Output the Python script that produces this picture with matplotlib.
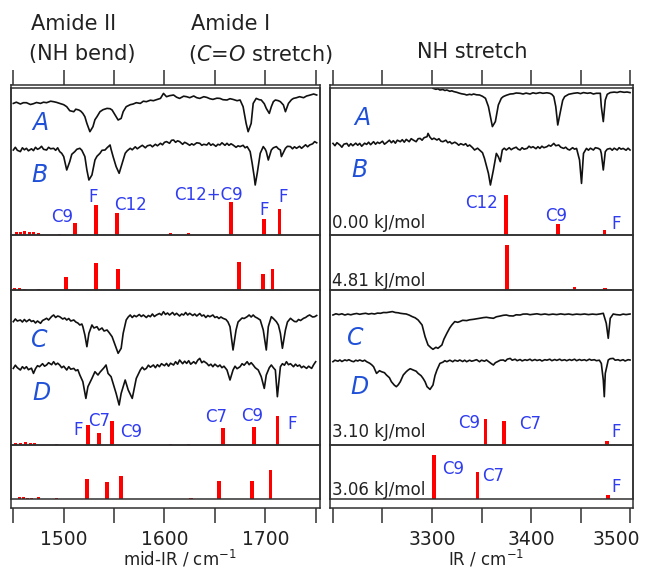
import numpy as np
import matplotlib
matplotlib.use("Agg")
import matplotlib.pyplot as plt
from matplotlib.transforms import ScaledTranslation

# ---------------------------------------------------------------------------
# Experimental traces, read off the figure: (wavenumber / cm-1, signal)
# signal is relative to each trace's own baseline (dips are negative)
# ---------------------------------------------------------------------------
mir_A = [
    (1450, -1.7), (1453, -0.5), (1457, -2.3), (1460, -1.0), (1463, -1.0), (1467, -2.8),
    (1470, -2.0), (1473, -0.8), (1477, -1.7), (1480, -0.5), (1483, -1.0), (1487, 0.5),
    (1490, 0.0), (1493, -0.7), (1496, -1.7), (1500, -3.0), (1503, -5.0), (1506, -9.0),
    (1510, -10.0), (1512, -7.5), (1515, -8.3), (1517, -9.5), (1519, -11.7), (1521, -15.0),
    (1523, -21.7), (1526, -30.0), (1529, -25.0), (1531, -18.0), (1533, -15.0), (1536, -10.0),
    (1539, -8.0), (1543, -6.7), (1546, -7.0), (1548, -8.3), (1551, -13.3), (1554, -18.3),
    (1557, -16.7), (1559, -10.0), (1562, -5.0), (1566, -3.0), (1569, -2.3), (1572, -1.0),
    (1576, -1.7), (1579, 0.5), (1582, 0.0), (1586, 1.5), (1589, 1.0), (1592, 2.0),
    (1596, 3.3), (1599, 8.3), (1602, 5.0), (1605, 6.0), (1609, 6.7), (1612, 4.5),
    (1615, 3.3), (1619, 5.5), (1622, 5.0), (1625, 4.0), (1629, 5.7), (1632, 4.0),
    (1635, 3.3), (1639, 5.0), (1642, 4.3), (1645, 3.0), (1648, 2.3), (1652, 3.5),
    (1655, 3.3), (1658, 2.0), (1662, 1.7), (1665, 3.0), (1668, 2.3), (1672, 1.0),
    (1675, 1.7), (1678, -5.0), (1681, -21.7), (1683, -30.0), (1686, -21.7), (1688, -1.7),
    (1691, 3.3), (1694, 2.0), (1696, 1.7), (1699, -2.0), (1701, -6.7), (1704, -11.7),
    (1706, -5.0), (1708, 0.0), (1710, 1.7), (1713, 1.0), (1715, 0.0), (1718, -3.3),
    (1720, -10.0), (1723, -1.7), (1726, 2.0), (1728, 3.3), (1731, 4.0), (1734, 5.0),
    (1738, 4.0), (1741, 5.7), (1744, 6.5), (1748, 7.7), (1751, 6.7),
]

mir_B = [
    (1450, -1.7), (1452, 1.0), (1454, -2.0), (1457, -3.3), (1459, 0.5), (1461, -1.5),
    (1463, 0.0), (1465, -2.5), (1468, -0.5), (1470, -2.3), (1472, 1.0), (1474, -1.0),
    (1476, 0.0), (1478, 2.0), (1480, -1.0), (1483, -1.7), (1485, 1.0), (1487, -0.5),
    (1490, 0.0), (1492, -2.0), (1494, 0.5), (1496, -3.3), (1498, -5.0), (1500, -8.3),
    (1503, -21.7), (1506, -13.3), (1508, -6.0), (1511, -3.3), (1513, -1.0), (1516, 0.0),
    (1518, -2.0), (1521, -8.3), (1523, -21.7), (1525, -31.7), (1528, -26.7), (1531, -11.7),
    (1533, -8.0), (1536, -5.0), (1538, -2.0), (1541, -1.7), (1543, 0.5), (1546, 3.3),
    (1547, -1.0), (1549, -8.3), (1552, -18.3), (1555, -25.0), (1558, -15.0), (1561, -5.0),
    (1563, -2.5), (1566, 0.0), (1568, -1.5), (1571, 1.5), (1573, -0.5), (1576, 1.7),
    (1578, 3.0), (1581, 0.5), (1583, 2.5), (1586, 3.3), (1588, 1.5), (1591, 4.0),
    (1593, 2.5), (1596, 5.0), (1598, 3.5), (1600, 6.0), (1602, 6.7), (1605, 5.0),
    (1607, 8.0), (1609, 8.3), (1611, 6.0), (1613, 7.5), (1615, 6.7), (1618, 4.0),
    (1620, 6.0), (1622, 5.0), (1625, 3.0), (1627, 4.5), (1629, 3.3), (1632, 5.5),
    (1635, 5.0), (1637, 3.0), (1639, 4.0), (1642, 3.3), (1644, 5.5), (1646, 3.0),
    (1648, 4.3), (1651, 2.0), (1653, 4.0), (1655, 3.3), (1657, 5.5), (1660, 3.0),
    (1662, 5.0), (1664, 3.0), (1666, 4.5), (1668, 3.3), (1671, 1.0), (1673, 2.5),
    (1675, 1.7), (1678, 3.0), (1680, 0.5), (1682, 1.7), (1685, -3.3), (1687, -15.0),
    (1689, -28.3), (1690, -36.7), (1692, -25.0), (1695, -5.0), (1698, 1.7), (1700, -1.0),
    (1701, -3.3), (1703, -11.7), (1706, -1.7), (1708, 0.5), (1711, 1.7), (1713, -0.5),
    (1715, -1.7), (1716, -8.3), (1720, 0.0), (1722, 2.0), (1725, 1.7), (1727, -0.5),
    (1729, 1.5), (1731, 0.0), (1734, 2.0), (1736, 0.0), (1738, 1.7), (1740, 3.5),
    (1742, 1.5), (1744, 3.3), (1747, 4.5), (1749, 6.7), (1751, 5.5),
]

mir_C = [
    (1450, -1.7), (1452, 1.0), (1454, -1.0), (1457, 0.0), (1459, -2.0), (1461, 0.5),
    (1463, -1.7), (1466, 0.5), (1468, -1.5), (1470, -0.7), (1472, -3.0), (1474, -1.0),
    (1477, -3.3), (1479, -0.5), (1481, 0.5), (1483, 1.7), (1485, 0.0), (1488, 3.5),
    (1490, 5.0), (1492, 2.5), (1494, 4.0), (1496, 3.3), (1499, 1.0), (1501, 2.0),
    (1503, 0.0), (1505, 1.5), (1507, -1.0), (1510, 0.0), (1512, -2.0), (1514, -3.0),
    (1516, -5.0), (1518, -4.0), (1519, -6.7), (1521, -15.0), (1523, -26.7), (1525, -13.3),
    (1528, -5.0), (1530, -8.0), (1533, -6.7), (1535, -10.0), (1538, -8.0), (1540, -11.0),
    (1543, -10.0), (1545, -12.5), (1548, -16.7), (1551, -25.0), (1554, -33.3), (1557, -28.3),
    (1559, -13.3), (1562, 0.0), (1564, 3.0), (1566, 5.0), (1568, 2.5), (1570, 4.5),
    (1572, 3.3), (1575, 5.5), (1577, 3.5), (1579, 5.0), (1582, 2.5), (1584, 4.5),
    (1586, 3.3), (1588, 6.0), (1590, 3.5), (1592, 5.0), (1595, 6.5), (1597, 5.0),
    (1599, 8.3), (1601, 5.5), (1603, 7.0), (1605, 5.0), (1608, 7.5), (1610, 5.0),
    (1612, 6.7), (1615, 4.0), (1617, 6.0), (1619, 5.0), (1621, 7.5), (1623, 5.0),
    (1625, 6.7), (1628, 4.5), (1630, 6.0), (1632, 4.0), (1635, 6.5), (1637, 4.0),
    (1639, 5.0), (1641, 2.5), (1643, 4.5), (1645, 3.3), (1648, 5.0), (1650, 2.5),
    (1652, 3.3), (1654, 1.5), (1656, 3.0), (1658, 1.7), (1661, 0.5), (1663, -2.0),
    (1665, -6.7), (1668, -30.0), (1671, -10.0), (1673, -2.0), (1675, 0.0), (1677, 2.0),
    (1679, 1.5), (1682, 3.3), (1684, 5.0), (1686, 3.0), (1688, 5.0), (1690, 3.0),
    (1692, 2.0), (1695, 0.0), (1698, -10.0), (1701, -30.0), (1703, -6.7), (1706, 3.3),
    (1708, 1.5), (1711, -1.7), (1713, -5.0), (1715, -13.3), (1717, -28.3), (1720, -10.0),
    (1722, -2.0), (1725, 1.7), (1727, 0.0), (1729, -1.5), (1731, -1.7), (1733, 0.5),
    (1735, -0.5), (1738, 1.7), (1740, 2.5), (1742, 4.0), (1744, 5.0), (1747, 3.0),
    (1749, 3.3), (1751, 4.5),
]

mir_D = [
    (1450, -1.7), (1452, 1.5), (1454, -1.0), (1457, -3.3), (1459, 0.0), (1461, -2.0),
    (1463, 0.0), (1465, -3.0), (1468, -1.5), (1470, -6.7), (1472, -2.0), (1474, 1.0),
    (1476, 0.0), (1479, 3.0), (1481, 0.5), (1483, 1.7), (1485, 4.0), (1488, 2.0),
    (1490, 5.0), (1492, 2.0), (1494, 3.5), (1496, 1.7), (1498, -1.0), (1500, 0.5),
    (1503, -3.3), (1505, 0.0), (1507, -2.5), (1510, -1.7), (1512, -4.0), (1514, -3.0),
    (1516, -8.3), (1519, -15.0), (1522, -31.7), (1524, -20.0), (1528, -11.7), (1531, -5.0),
    (1534, -8.3), (1536, -5.5), (1538, -3.3), (1540, -1.0), (1542, 1.7), (1544, -6.7),
    (1547, -10.0), (1549, -16.7), (1552, -26.7), (1555, -38.3), (1557, -26.7), (1561, -13.3),
    (1564, -23.3), (1568, -31.7), (1572, -11.7), (1576, -3.3), (1578, -0.5), (1580, -3.0),
    (1582, -1.7), (1584, 1.5), (1586, -0.5), (1589, 1.7), (1591, -1.0), (1593, 2.0),
    (1595, 0.0), (1597, 3.0), (1600, 1.0), (1602, 3.3), (1604, 0.5), (1606, 3.5),
    (1609, 1.7), (1611, 5.0), (1613, 2.5), (1615, 6.7), (1618, 3.0), (1620, 5.5),
    (1622, 3.3), (1624, 6.0), (1626, 2.5), (1629, 5.0), (1631, 3.0), (1633, 6.5),
    (1635, 8.3), (1637, 4.0), (1639, 5.5), (1642, 3.3), (1644, 1.0), (1646, 2.5),
    (1648, 0.0), (1650, 2.5), (1653, 0.0), (1655, 1.7), (1657, -1.0), (1659, 0.5),
    (1662, -3.3), (1665, -13.3), (1668, -3.3), (1670, 0.5), (1672, -2.0), (1675, 0.0),
    (1677, 3.0), (1679, 1.5), (1682, 5.0), (1684, 2.0), (1686, 4.0), (1688, 1.7),
    (1690, -1.0), (1693, -3.3), (1696, -10.0), (1699, -21.7), (1701, -8.3), (1704, -1.0),
    (1706, 1.7), (1708, -1.0), (1710, -3.3), (1712, -30.0), (1715, 0.0), (1717, 3.0),
    (1719, 1.5), (1721, 5.0), (1723, 2.0), (1725, 3.0), (1728, 0.0), (1730, 2.5),
    (1732, 0.5), (1734, 1.7), (1736, -1.0), (1738, 0.5), (1741, -1.7), (1743, 0.5),
    (1746, -1.7), (1748, 2.0), (1750, 5.0),
]

nh_A = [
    (3301, 5.0), (3304, 4.0), (3306, 4.5), (3308, 3.3), (3311, 3.8), (3313, 2.8),
    (3315, 3.3), (3318, 2.0), (3320, 2.5), (3322, 1.7), (3325, 1.0), (3328, 0.0),
    (3330, -0.5), (3333, -1.0), (3335, -1.7), (3338, -1.0), (3340, -1.5), (3342, -0.7),
    (3345, -1.5), (3348, -1.7), (3351, -3.0), (3354, -5.0), (3357, -13.3), (3359, -23.3),
    (3361, -33.3), (3364, -28.3), (3367, -11.7), (3370, -5.0), (3372, -3.3), (3375, -2.0),
    (3379, -0.7), (3382, -0.5), (3385, 0.3), (3389, 0.0), (3392, -0.7), (3395, 0.2),
    (3399, -0.7), (3402, 0.5), (3405, -0.2), (3409, 0.7), (3412, 0.0), (3416, 0.5),
    (3419, 0.0), (3421, -1.0), (3423, -3.3), (3425, -13.3), (3427, -31.7), (3430, -16.7),
    (3432, -7.0), (3434, -3.3), (3438, -1.0), (3443, 0.0), (3447, 0.5), (3450, -0.3),
    (3453, 0.7), (3457, 0.0), (3460, 0.5), (3463, -0.7), (3466, 0.0), (3470, 0.0),
    (3471, -13.3), (3473, -28.3), (3475, -6.7), (3477, -1.0), (3480, 0.7), (3484, 1.2),
    (3487, 0.8), (3490, 1.7), (3494, 1.0), (3497, 1.3), (3500, 0.7),
]

nh_B = [
    (3200, 3.3), (3202, 1.0), (3204, 4.0), (3207, 1.7), (3209, -0.5), (3211, 2.5),
    (3214, 3.3), (3216, 0.5), (3218, 3.0), (3220, 1.0), (3223, 3.5), (3225, 1.5),
    (3227, 3.3), (3229, 0.5), (3232, 3.5), (3234, 2.3), (3236, 4.5), (3238, 2.0),
    (3241, 5.0), (3243, 2.5), (3245, 4.5), (3247, 3.3), (3250, 5.5), (3252, 2.5),
    (3254, 4.0), (3257, 6.5), (3259, 4.0), (3261, 6.0), (3263, 3.5), (3265, 6.5),
    (3268, 5.0), (3270, 7.0), (3272, 4.5), (3274, 7.3), (3277, 5.0), (3279, 8.0),
    (3281, 6.7), (3284, 5.0), (3286, 8.0), (3288, 8.3), (3290, 6.5), (3292, 9.0),
    (3295, 10.0), (3296, 13.3), (3298, 9.5), (3300, 7.3), (3302, 8.5), (3305, 6.7),
    (3307, 8.0), (3309, 5.5), (3311, 5.0), (3314, 6.5), (3316, 4.0), (3318, 5.0),
    (3320, 3.0), (3323, 4.5), (3325, 3.3), (3327, 1.5), (3329, 3.0), (3332, 1.7),
    (3334, 3.0), (3336, 0.5), (3338, 1.7), (3341, -1.0), (3343, -3.3), (3346, -1.5),
    (3348, -3.3), (3351, -6.0), (3353, -11.7), (3357, -26.7), (3359, -38.3), (3362, -23.3),
    (3365, -6.7), (3367, -10.0), (3369, -15.0), (3371, -3.3), (3373, -1.5), (3375, -3.3),
    (3378, -1.0), (3380, -3.0), (3382, -1.7), (3385, -0.5), (3387, -2.5), (3389, -3.3),
    (3391, -1.0), (3393, -2.5), (3396, -1.7), (3398, 0.5), (3400, -1.0), (3402, 0.0),
    (3405, -2.0), (3407, 0.0), (3409, -1.7), (3411, 0.5), (3413, -1.0), (3416, 0.0),
    (3418, 1.5), (3420, 0.5), (3423, 3.3), (3425, 1.0), (3428, 1.7), (3430, -0.5),
    (3433, -1.7), (3435, -0.5), (3437, -2.5), (3439, -3.3), (3442, -1.0), (3444, -2.5),
    (3446, -1.7), (3449, -13.3), (3451, -36.7), (3453, -6.7), (3456, -1.7), (3458, -3.5),
    (3460, -1.5), (3463, -3.3), (3465, -1.0), (3468, -1.7), (3470, -3.0), (3471, -6.7),
    (3473, -23.3), (3475, -5.0), (3477, -2.5), (3480, -1.7), (3482, -3.5), (3484, -1.5),
    (3487, -3.3), (3489, -1.0), (3491, -2.5), (3493, -1.7), (3496, -3.5), (3498, -1.5),
    (3500, -3.3),
]

nh_C = [
    (3200, -0.7), (3203, 0.5), (3206, -0.3), (3209, 0.5), (3212, -0.7), (3215, 0.2),
    (3218, -0.5), (3221, 0.3), (3224, 0.8), (3227, 0.0), (3230, 0.6), (3233, 1.0),
    (3236, 0.2), (3239, 0.8), (3242, 0.3), (3245, 1.2), (3248, 1.0), (3251, 1.8),
    (3254, 1.7), (3257, 2.2), (3260, 2.7), (3263, 1.8), (3266, 1.5), (3268, 1.0),
    (3271, 0.6), (3274, 0.3), (3277, -0.8), (3280, -2.3), (3283, -3.5), (3286, -5.7),
    (3290, -10.7), (3293, -22.3), (3296, -30.7), (3299, -33.5), (3301, -35.0), (3304, -33.0),
    (3306, -34.0), (3310, -30.7), (3312, -25.0), (3315, -19.0), (3318, -13.5), (3320, -10.7),
    (3323, -7.3), (3326, -8.0), (3328, -7.3), (3331, -6.0), (3335, -6.3), (3338, -5.5),
    (3342, -5.0), (3345, -4.5), (3348, -4.0), (3352, -3.3), (3355, -3.0), (3358, -3.5),
    (3362, -4.0), (3365, -2.5), (3369, -1.7), (3372, -1.0), (3375, -0.7), (3378, -1.5),
    (3382, -1.7), (3385, -0.5), (3389, -0.7), (3392, 0.2), (3396, 0.3), (3399, -0.4),
    (3402, 0.0), (3406, 0.5), (3410, -0.3), (3414, 0.3), (3418, -0.4), (3422, 0.2),
    (3426, -0.3), (3430, 0.4), (3434, -0.2), (3438, 0.3), (3442, -0.4), (3446, 0.2),
    (3450, -0.2), (3454, 0.3), (3458, -0.3), (3462, 0.2), (3466, -0.2), (3470, 0.4),
    (3473, 1.0), (3476, -9.0), (3478, -24.0), (3480, -4.0), (3483, 0.3), (3486, -0.3),
    (3490, -0.7), (3493, 0.2), (3496, -0.3), (3500, 0.3),
]

nh_D = [
    (3200, -1.0), (3202, 0.5), (3205, -0.5), (3207, 0.7), (3209, -0.8), (3212, 0.8),
    (3214, 0.0), (3216, 1.0), (3219, -0.5), (3221, -1.0), (3223, 0.5), (3225, -0.3),
    (3227, 0.7), (3230, -0.5), (3232, 0.5), (3234, -1.0), (3237, -2.5), (3239, -4.0),
    (3241, -6.0), (3244, -12.7), (3247, -10.0), (3249, -11.0), (3252, -12.0), (3254, -14.3),
    (3257, -17.0), (3259, -21.0), (3262, -24.5), (3264, -26.0), (3266, -24.0), (3268, -21.0),
    (3271, -14.3), (3274, -11.0), (3276, -9.3), (3278, -8.0), (3281, -9.3), (3284, -10.5),
    (3286, -12.7), (3289, -15.0), (3291, -17.7), (3293, -21.0), (3295, -26.0), (3298, -28.7),
    (3301, -24.3), (3303, -15.0), (3305, -9.3), (3308, -2.7), (3311, -1.5), (3313, 0.0),
    (3315, -1.0), (3318, 0.5), (3321, -1.0), (3323, 0.5), (3326, -0.5), (3328, 0.7),
    (3331, -0.8), (3333, 0.5), (3335, -1.0), (3338, 0.5), (3340, -0.5), (3342, 0.0),
    (3345, 1.0), (3348, -1.0), (3350, 0.5), (3353, -0.5), (3355, 0.7), (3358, -1.5),
    (3360, -3.0), (3362, -4.3), (3364, -2.0), (3366, -1.0), (3369, 0.5), (3372, 0.7),
    (3374, -0.5), (3376, 1.5), (3379, 2.3), (3381, 0.5), (3384, 1.5), (3386, 0.0),
    (3389, 1.2), (3391, -0.2), (3394, 1.0), (3396, 0.3), (3399, 1.5), (3401, 0.0),
    (3404, 1.2), (3406, 0.2), (3409, 1.0), (3411, -0.3), (3414, 1.0), (3416, 0.5),
    (3419, 1.5), (3421, 0.0), (3424, 1.2), (3426, 0.3), (3429, 1.5), (3431, 0.2),
    (3434, 1.0), (3436, 0.0), (3439, 1.2), (3441, 0.3), (3444, 1.5), (3446, 0.0),
    (3449, 1.2), (3451, 0.3), (3454, 1.0), (3456, 0.0), (3459, 1.5), (3461, 0.5),
    (3464, 1.0), (3466, 0.0), (3469, 0.5), (3471, -2.7), (3473, -19.3), (3474, -36.0),
    (3475, -12.7), (3478, 0.7), (3480, 2.0), (3483, 2.3), (3485, 0.5), (3488, 1.0),
    (3490, 0.0), (3493, 1.0), (3495, -0.3), (3498, 1.0), (3500, 0.7),
]

# ---------------------------------------------------------------------------
# Computed stick spectra: (wavenumber / cm-1, intensity)
# ---------------------------------------------------------------------------
mir_sticks_000 = [(1453, 3), (1457, 3), (1461, 3.5), (1466, 2.5), (1470, 3), (1475, 2),
                  (1496, 1), (1511, 12), (1532, 30), (1553, 22), (1606, 1.5), (1624, 1.5),
                  (1666, 33), (1699, 16), (1714, 26)]
mir_sticks_481 = [(1451, 2), (1456, 2), (1461, 1.5), (1475, 1.5), (1502, 13), (1532, 27),
                  (1554, 21), (1674, 28.5), (1698, 16.5), (1707, 21)]
mir_sticks_310 = [(1452, 2.5), (1457, 2.5), (1462, 3), (1467, 2), (1471, 2.5), (1493, 1),
                  (1524, 20), (1535, 12), (1548, 24), (1606, 1), (1624, 1), (1658, 17),
                  (1689, 18), (1712, 29)]
mir_sticks_306 = [(1456, 2), (1460, 2), (1464, 1.5), (1468, 1.5), (1475, 2), (1493, 1),
                  (1523, 20), (1543, 17), (1557, 23), (1626, 1.5), (1654, 18), (1687, 18),
                  (1705, 29)]

nh_sticks_000 = [(3375, 40), (3427, 11), (3474, 5)]
nh_sticks_481 = [(3376, 45), (3444, 3), (3475, 2)]
nh_sticks_310 = [(3354, 26), (3373, 24), (3477, 4)]
nh_sticks_306 = [(3302, 44), (3346, 27), (3478, 4.5)]

energies = ["0.00 kJ/mol", "4.81 kJ/mol", "3.10 kJ/mol", "3.06 kJ/mol"]

# stick assignments: (wavenumber, height above panel floor, text)
mir_labels_000 = [(1498, 18, "C9"), (1529, 38, "F"), (1566, 30, "C12"),
                  (1644, 40, "C12+C9"), (1699, 25, "F"), (1718, 38, "F")]
mir_labels_310 = [(1514, 15, "F"), (1535, 24, "C7"), (1567, 13, "C9"),
                  (1651, 28, "C7"), (1687, 29, "C9"), (1727, 21, "F")]
nh_labels_000 = [(3350, 32, "C12"), (3425, 19, "C9"), (3486, 11, "F")]
nh_labels_310 = [(3338, 22, "C9"), (3399, 21, "C7"), (3486, 13, "F")]
nh_labels_306 = [(3321, 30, "C9"), (3362, 23, "C7"), (3486, 12, "F")]

# ---------------------------------------------------------------------------
# Layout (pixel based, figure is 647 x 570)
# ---------------------------------------------------------------------------
W, H = 647, 570
fig = plt.figure(figsize=(W / 100, H / 100), dpi=100)
plt.rcParams["font.family"] = "DejaVu Sans"

FRAME = "#303030"
TEXT = "#222222"
LABEL_BLUE = "#2f3cf0"
LETTER_BLUE = "#1f50d8"


def px_axes(x0, x1, y0, y1, **kw):
    return fig.add_axes([x0 / W, 1 - y1 / H, (x1 - x0) / W, (y1 - y0) / H], **kw)


ROWS = [(88, 235), (235, 290), (290, 445), (445, 499)]
COLS = {
    "mir": dict(x0=11, x1=319.7, xlim=(1447.7, 1754.0), ticks=np.arange(1450, 1751, 50),
                labels={1500: "1500", 1600: "1600", 1700: "1700"},
                xlabel="mid-IR / cm$^{-1}$", xlabel_x=180),
    "nh": dict(x0=330, x1=633.3, xlim=(3197.0, 3503.3), ticks=np.arange(3200, 3501, 50),
               labels={3300: "3300", 3400: "3400", 3500: "3500"},
               xlabel="IR / cm$^{-1}$", xlabel_x=486),
}

traces = {
    "mir": [(0, mir_A, 133.3, "A", 1477, 112), (0, mir_B, 86.7, "B", 1476, 60),
            (2, mir_C, 125.0, "C", 1476, 105), (2, mir_D, 78.3, "D", 1478, 52)],
    "nh": [(0, nh_A, 141.7, "A", 3230, 117), (0, nh_B, 88.3, "B", 3227, 65),
           (2, nh_C, 130.7, "C", 3222, 107), (2, nh_D, 84.3, "D", 3227, 58)],
}
sticks = {
    "mir": [mir_sticks_000, mir_sticks_481, mir_sticks_310, mir_sticks_306],
    "nh": [nh_sticks_000, nh_sticks_481, nh_sticks_310, nh_sticks_306],
}
stick_labels = {
    "mir": {0: mir_labels_000, 2: mir_labels_310},
    "nh": {0: nh_labels_000, 2: nh_labels_310, 3: nh_labels_306},
}
energy_y = [12, 9.5, 13.3, 9]

for key, col in COLS.items():
    # outer box with the tick rulers on top and bottom
    box = px_axes(col["x0"], col["x1"], 85, 508)
    box.patch.set_visible(False)
    box.set_xlim(*col["xlim"])
    box.set_ylim(0, 1)
    box.set_yticks([])
    box.set_xticks(col["ticks"])
    box.set_xticklabels([col["labels"].get(t, "") for t in col["ticks"]],
                        fontsize=13.5, color=TEXT)
    box.tick_params(axis="x", top=True, bottom=True, direction="out", length=11,
                    width=1.1, color=FRAME, pad=5)
    for s in box.spines.values():
        s.set_color(FRAME)
        s.set_linewidth(1.1)
    if key == "nh":
        # the last label is pulled left so it stays inside the picture
        last = box.get_xticklabels()[-1]
        last.set_transform(last.get_transform()
                           + ScaledTranslation(-14 / 100, 0, fig.dpi_scale_trans))
    fig.text(col["xlabel_x"] / W, 1 - 559 / H, col["xlabel"], fontsize=12,
             ha="center", va="center", color=TEXT)

    panels = []
    for (y0, y1) in ROWS:
        ax = px_axes(col["x0"], col["x1"], y0, y1)
        ax.set_xlim(*col["xlim"])
        ax.set_ylim(0, y1 - y0)
        ax.set_xticks([])
        ax.set_yticks([])
        ax.patch.set_visible(False)
        for s in ax.spines.values():
            s.set_color(FRAME)
            s.set_linewidth(1.1)
        panels.append(ax)

    for row, data, base, letter, lx, ly in traces[key]:
        arr = np.array(data)
        panels[row].plot(arr[:, 0], arr[:, 1] + base, color="#111111", lw=1.2)
        panels[row].text(lx, ly, letter, color=LETTER_BLUE, fontsize=17,
                         style="italic", ha="center", va="center")

    for row, st in enumerate(sticks[key]):
        arr = np.array(st, dtype=float)
        panels[row].bar(arr[:, 0], arr[:, 1], width=3.6, color="#ff0000", linewidth=0)

    for row, labs in stick_labels[key].items():
        for x, y, t in labs:
            panels[row].text(x, y, t, color=LABEL_BLUE, fontsize=12,
                             ha="center", va="center")

    if key == "nh":
        for row, e in enumerate(energies):
            panels[row].text(3199.5, energy_y[row], e, color=TEXT, fontsize=12,
                             ha="left", va="center")

# headings
fig.text(74 / W, 1 - 24 / H, "Amide II", fontsize=15, ha="center", va="center", color=TEXT)
fig.text(82 / W, 1 - 54 / H, "(NH bend)", fontsize=15, ha="center", va="center", color=TEXT)
fig.text(231 / W, 1 - 24 / H, "Amide I", fontsize=15, ha="center", va="center", color=TEXT)
fig.text(261 / W, 1 - 54 / H, "($\\it{C}$=$\\it{O}$ stretch)", fontsize=15, ha="center",
         va="center", color=TEXT)
fig.text(472 / W, 1 - 52 / H, "NH stretch", fontsize=15, ha="center", va="center", color=TEXT)

fig.savefig("out.png", dpi=100)
